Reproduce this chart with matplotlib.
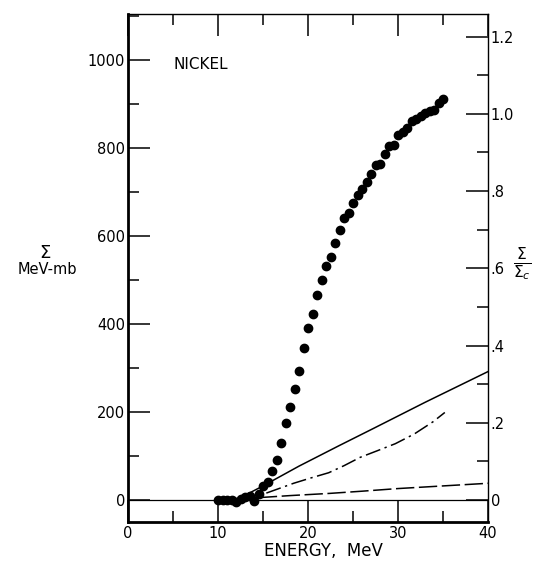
import matplotlib.pyplot as plt
from matplotlib.ticker import MultipleLocator, FixedLocator, FixedFormatter

plt.rcParams['font.family'] = ['DejaVu Sans']

# measured points (Sigma, MeV-mb)
energy = [10.0, 10.5, 11.0, 11.5, 12.0, 12.5, 13.0, 13.5, 14.0, 14.5,
          15.0, 15.5, 16.0, 16.5, 17.0, 17.5, 18.0, 18.5, 19.0, 19.5,
          20.0, 20.5, 21.0, 21.5, 22.0, 22.5, 23.0, 23.5, 24.0, 24.5,
          25.0, 25.5, 26.0, 26.5, 27.0, 27.5, 28.0, 28.5, 29.0, 29.5,
          30.0, 30.5, 31.0, 31.5, 32.0, 32.5, 33.0, 33.5, 34.0, 34.5, 35.0]
sigma = [0, 0, 0, 0, -5, 2, 6, 10, -2, 13,
         32, 41, 66, 92, 130, 176, 212, 253, 293, 345,
         390, 424, 465, 501, 532, 552, 584, 615, 641, 652,
         676, 693, 708, 724, 742, 762, 765, 786, 805, 808,
         831, 836, 845, 861, 867, 874, 880, 884, 886, 903, 912]

# curves
solid_x = [12.0, 15.0, 19.0, 23.4, 27.3, 33.0, 40.0]
solid_y = [0, 32, 77, 123, 163, 222, 292]
dashdot_x = [12.5, 14.0, 15.0, 16.5, 18.4, 20.3, 22.3, 24.0, 25.8,
             27.7, 29.7, 31.8, 33.9, 35.2]
dashdot_y = [0, 7, 13, 24, 38, 50, 62, 78, 97, 112, 128, 150, 178, 199]
dashed_x = [12.0, 13.5, 15.0, 18.0, 22.4, 26.0, 30.0, 35.0, 40.0]
dashed_y = [0, 3, 6, 10, 15, 20, 26, 32, 38]

right_ticks = [0, 0.2, 0.4, 0.6, 0.8, 1.0, 1.2]
right_labels = ["0", ".2", ".4", ".6", ".8", "1.0", "1.2"]
scale = 878.0  # MeV-mb per unit of Sigma/Sigma_c

fig = plt.figure(figsize=(5.34, 5.62), dpi=100)
ax = fig.add_axes([0.2397, 0.0712, 0.6742, 0.9039])

ax.axhline(0, color="black", lw=0.9)
ax.plot(energy, sigma, "o", color="black", ms=6, zorder=3)
ax.plot(solid_x, solid_y, "-", color="black", lw=1.1)
ax.plot(dashdot_x, dashdot_y, color="black", lw=1.1, dashes=(10, 3, 1.5, 3))
ax.plot(dashed_x, dashed_y, color="black", lw=1.1, dashes=(12, 3))

ax.set_xlim(0, 40)
ax.set_ylim(-50, 1105)
ax.xaxis.set_major_locator(MultipleLocator(10))
ax.xaxis.set_minor_locator(MultipleLocator(5))
ax.yaxis.set_major_locator(MultipleLocator(200))
ax.yaxis.set_minor_locator(MultipleLocator(100))
ax.tick_params(which="both", direction="in", top=True, right=False, width=1.1,
               labelsize=10.5)
ax.tick_params(which="major", length=16)
ax.tick_params(which="minor", length=8)
ax.tick_params(axis="x", pad=3)
ax.tick_params(axis="y", pad=2)
ax.spines["left"].set_linewidth(2)
ax.spines["bottom"].set_linewidth(2)
ax.spines["top"].set_linewidth(1)
ax.spines["right"].set_linewidth(1)

ax2 = ax.twinx()
ax2.set_ylim(-50 / scale, 1105 / scale)
ax2.yaxis.set_major_locator(FixedLocator(right_ticks))
ax2.yaxis.set_major_formatter(FixedFormatter(right_labels))
ax2.yaxis.set_minor_locator(MultipleLocator(0.1))
ax2.tick_params(which="both", direction="in", width=1.1, labelsize=10.5, pad=2)
ax2.tick_params(which="major", length=16)
ax2.tick_params(which="minor", length=8)
for s in ax2.spines.values():
    s.set_visible(False)

ax.text(5.0, 990, "NICKEL", fontsize=11, va="center", ha="left")
fig.text(323 / 534, 1 - 551 / 562, "ENERGY,  MeV", fontsize=12,
         ha="center", va="center")
fig.text(45 / 534, 1 - 253 / 562, r"$\Sigma$", fontsize=13, ha="center", va="center")
fig.text(47 / 534, 1 - 270 / 562, "MeV-mb", fontsize=10.5, ha="center", va="center")
fig.text(513 / 534, 1 - 264 / 562, r"$\frac{\Sigma}{\Sigma_c}$", fontsize=16,
         ha="left", va="center")

fig.savefig("out.png", dpi=100)
